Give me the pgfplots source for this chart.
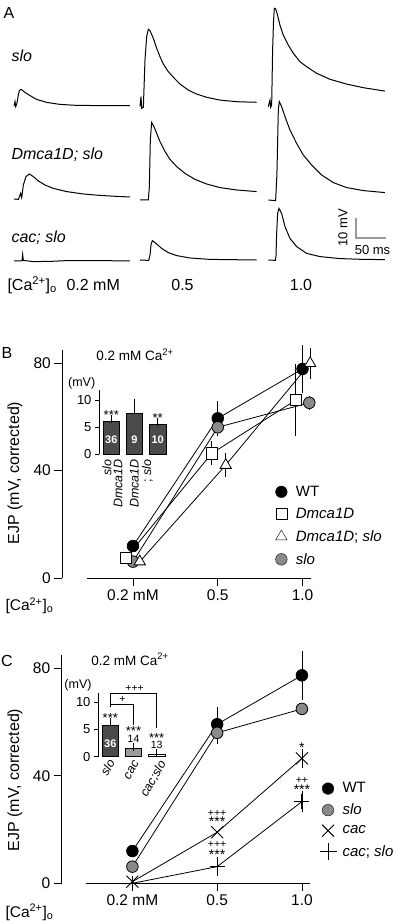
\documentclass[border=0pt]{standalone}
\usepackage{fontspec}
\setmainfont{Liberation Sans}
\usepackage{pgfplots}
\pgfplotsset{compat=1.18}
\definecolor{slogray}{HTML}{8A8A8A}
\definecolor{bardark}{HTML}{4A4A4A}
\definecolor{barmid}{HTML}{9A9A9A}
\definecolor{scalegray}{HTML}{9A9A9A}
\newcommand{\fs}[1]{\fontsize{#1}{#1}\selectfont}
\newcommand{\cao}{[Ca\textsuperscript{2+}]\textsubscript{o}}
\pgfplotsset{
  traceax/.style={hide axis, scale only axis, clip=false, anchor=south west,
    xmin=0, xmax=200, ymin=0, ymax=50, width=120pt, height=100pt},
  tr/.style={black, line width=1pt, no marks},
  mainax/.style={scale only axis, clip=false, anchor=south west,
    width=248.7pt, height=228.4pt, xmin=-0.834, xmax=2.1, ymin=0, ymax=85,
    axis lines=left, axis line style={draw=none},
    xtick={0,1,2}, xticklabels={0.2 mM,0.5,1.0}, ytick={0,40,80},
    tick align=outside, major tick length=8pt, tick style={black, line width=0.8pt},
    tick label style={font=\fs{15.5}},
    /pgf/number format/assume math mode=true,
    legend cell align=left,
  },
  lgimg/.style={legend image code/.code={\path[draw=none, fill=none] (-2pt,0pt) -- (20pt,0pt);
      \draw[mark repeat=2,mark phase=2,##1] plot coordinates {(0pt,0pt)(7pt,0pt)(14pt,0pt)};}},
  insetax/.style={scale only axis, clip=false, anchor=south west,
    width=68pt, height=64.1pt, xmin=-0.53, xmax=2.4, ymin=0, ymax=11.8,
    axis y line=left, axis x line=none, axis line style={-, line width=0.8pt},
    xtick=\empty, ytick={0,5,10}, tick align=outside, major tick length=4pt,
    tick style={black, line width=0.8pt}, tick label style={font=\fs{13}},
    /pgf/number format/assume math mode=true},
  ln/.style={black, line width=0.8pt},
  eb/.style={error bars/y dir=both, error bars/y explicit, error bars/error mark=none,
    error bars/error bar style={line width=0.8pt, black}},
  beb/.style={error bars/y dir=plus, error bars/y explicit,
    error bars/error bar style={line width=0.8pt, black},
    error bars/error mark options={black, mark size=4pt, line width=0.8pt}},
}
\newcommand{\trace}[3]{%
  \begin{axis}[traceax, at={(#1pt,#2pt)}]
  \addplot[tr] coordinates {#3};
  \end{axis}}
\begin{document}
\begin{tikzpicture}[x=1pt, y=1pt]
\useasboundingbox (0,0) rectangle (400,924);
% ---------------- Panel A ----------------
\node[font=\fs{16}] at (9,911) {A};
\node[font=\fs{16}\itshape, anchor=west] at (8,868) {slo};
\node[font=\fs{16}, anchor=west] at (8,769) {\textit{Dmca1D; slo}};
\node[font=\fs{16}, anchor=west] at (8,686) {\textit{cac; slo}};
\node[font=\fs{16}, anchor=west] at (4,639) {\cao};
\node[font=\fs{16}, anchor=west] at (63,639) {0.2 mM};
\node[font=\fs{16}] at (182.5,639) {0.5};
\node[font=\fs{16}] at (301,639) {1.0};
\node[font=\fs{13}, rotate=90] at (343,696) {10 mV};
\node[font=\fs{13}] at (372.5,674) {50 ms};
% row 1: slo
\trace{14}{818}{(0,0)(1.7,2.2)(2.8,-0.3)(4.4,0.8)(5.6,2.5)(7.2,5.5)(8.9,7.6)(11.1,8.3)(13.9,7.9)(18.3,6.8)(26.7,5.2)(37.8,3.3)(54.4,1.8)(76.7,0.8)(104.4,0.3)(143.3,0.2)(193.3,0.2)}
\trace{140}{817.3}{(0,0)(1.7,5)(2.8,-0.8)(5.6,-0.3)(8.3,23.3)(11.1,35)(13.9,38.7)(16.7,38)(22.2,34.2)(27.8,29.2)(33.3,25)(38.9,21.3)(47.2,17.5)(55.6,14.7)(66.7,11.3)(80.6,8.3)(94.4,6.3)(111.1,4.7)(133.3,3.3)(161.1,2.5)(194.4,2.2)}
\trace{268.3}{817.3}{(0,0)(2.8,3.3)(3.9,-0.3)(5.6,0.8)(7.2,28.3)(8.6,42)(10,49.2)(12,49)(13.9,47.5)(19.4,40.8)(25,35.8)(33.3,30.8)(41.7,26.7)(52.8,22.5)(63.9,20)(80.6,16.7)(102.8,13.7)(130.6,11.3)(158.3,9.5)(194.4,7.8)}
% row 2: Dmca1D; slo
\trace{14}{725}{(0,0)(7.2,-0.2)(11.1,2.8)(12.8,0.7)(15.6,7)(20,11.2)(25.6,12.5)(32.2,11.2)(40.6,9)(51.7,7)(65.6,5.3)(87.8,3.7)(115.6,2.5)(143.3,1.8)(171.1,1.3)(193.3,1)}
\trace{140}{724}{(0,0)(13.9,0)(15.6,6.7)(17.2,30)(19.4,38.7)(23.3,36.7)(27.8,33.3)(33.3,29.2)(41.7,24.2)(50,20.3)(61.1,16.7)(75,13.3)(91.7,10.3)(111.1,8)(133.3,6.2)(161.1,5)(194.4,4.2)}
\trace{268.3}{724}{(0,0)(12.2,-0.3)(14.4,13.3)(16.7,45)(18.3,49.2)(22.2,46.7)(27.8,41.7)(36.1,35)(47.2,28.3)(58.3,22.5)(72.2,17.5)(88.9,12.5)(108.3,8.7)(130.6,6.2)(158.3,4.7)(194.4,3.7)}
% row 3: cac; slo
\trace{14}{663}{(0,0)(13.3,0)(14.4,3.3)(15.6,0.3)(32.2,-0.3)(60,-0.2)(87.8,0.2)(143.3,0.2)(193.3,0)}
\trace{140}{664}{(0,0)(14.4,-0.2)(16.7,2.5)(18.3,7.5)(20.6,9.7)(27.8,8)(36.1,5.8)(47.2,3.7)(61.1,2.2)(83.3,1)(116.7,0.3)(194.4,0)}
\begin{axis}[traceax, at={(268.3pt,664pt)}]
\addplot[tr] coordinates {(0,0)(11.7,-0.2)(12.8,1.7)(13.9,13.3)(15.6,23.3)(17.8,25.8)(22.2,23.3)(27.8,16.7)(36.1,10.8)(47.2,6.7)(63.9,3.3)(86.1,1.7)(119.4,0.7)(158.3,0.3)(194.4,0.2)};
\addplot[scalegray, line width=1.2pt, no marks] coordinates {(146.2,21)(146.2,11)(196.2,11)};
\end{axis}
% ---------------- Panel B ----------------
\node[font=\fs{16}] at (7,571) {B};
\node[font=\fs{15.5}, anchor=west] at (2,318) {\cao};
\node[font=\fs{16}, rotate=90] at (15,451) {EJP (mV, corrected)};
\begin{axis}[mainax, at={(62.3pt,346pt)},
  legend style={draw=none, fill=none, font=\fs{15}, at={(axis cs:1.766,32.1)}, anchor=north west,
    xshift=-10.5pt, yshift=7.5pt, row sep=7.4pt, inner sep=0pt, nodes={inner sep=1.5pt}}]
\draw[line width=0.8pt] (axis cs:-0.834,0) -- (axis cs:-0.834,85);
\draw[line width=0.8pt] (axis cs:-0.543,0) -- (axis cs:2.1,0);
\addplot[ln, eb, mark=*, mark size=5.8pt, mark options={fill=black}, forget plot]
  coordinates {(0,11.9) +- (0,0) (1,59.4) +- (0,6.6) (2,77.8) +- (0,9)};
\addplot[ln, eb, mark=*, mark size=5.8pt, mark options={fill=slogray}, forget plot]
  coordinates {(0,6.1) +- (0,0) (1,56.1) +- (0,3) (2.08,65.2) +- (0,2.5)};
\addplot[ln, eb, mark=square*, mark size=5.6pt, mark options={fill=white}, forget plot]
  coordinates {(-0.08,7.6) +- (0,0) (0.93,46.4) +- (0,4.5) (1.92,66.2) +- (0,13.3)};
\addplot[ln, eb, mark=triangle*, mark size=6.5pt, mark options={fill=white}, forget plot]
  coordinates {(0.08,6.1) +- (0,0) (1.094,42) +- (0,4.4) (2.09,79.9) +- (0,5.7)};
\addlegendimage{only marks, mark=*, mark size=5.8pt, fill=black, lgimg}
\addlegendentry{WT}
\addlegendimage{only marks, mark=square*, mark size=5.6pt, fill=white, lgimg}
\addlegendentry{\textit{Dmca1D}}
\addlegendimage{only marks, mark=triangle*, mark size=6.5pt, fill=white, lgimg}
\addlegendentry{\textit{Dmca1D}; \textit{slo}}
\addlegendimage{only marks, mark=*, mark size=5.8pt, fill=slogray, lgimg}
\addlegendentry{\textit{slo}}
\end{axis}
\node[font=\fs{13.5}] at (135,569) {0.2 mM Ca\textsuperscript{2+}};
\node[font=\fs{12.5}] at (81.7,540.7) {(mV)};
\begin{axis}[insetax, at={(99pt,469.7pt)}]
\addplot[ybar, bar width=16.5pt, fill=bardark, draw=black, line width=0.6pt, beb]
  coordinates {(0,6.0) +- (0,0.5) (1,7.55) +- (0,1.85) (2,5.45) +- (0,0.45)};
\node[font=\fs{11}\bfseries, text=white] at (axis cs:0,2.6) {36};
\node[font=\fs{11}\bfseries, text=white] at (axis cs:1,2.6) {9};
\node[font=\fs{11}\bfseries, text=white] at (axis cs:2,2.6) {10};
\node[font=\fs{13}] at (axis cs:0,7.3) {***};
\node[font=\fs{13}] at (axis cs:2,6.7) {**};
\node[font=\fs{12.5}\itshape, rotate=90, anchor=east, inner sep=1pt] at (axis cs:-0.185,-0.7) {slo};
\node[font=\fs{12.5}\itshape, rotate=90, anchor=east, inner sep=1pt] at (axis cs:0.29,-0.7) {Dmca1D};
\node[font=\fs{12.5}, rotate=90, anchor=east, align=right, inner sep=1pt] at (axis cs:1.3,-0.7) {\textit{Dmca1D}\\; \textit{slo}};
\end{axis}
% ---------------- Panel C ----------------
\node[font=\fs{16}] at (7,263) {C};
\node[font=\fs{15.5}, anchor=west] at (2,11.7) {\cao};
\node[font=\fs{16}, rotate=90] at (15,144) {EJP (mV, corrected)};
\begin{axis}[mainax, at={(61.7pt,40.7pt)},
  legend style={draw=none, fill=none, font=\fs{15}, at={(axis cs:2.0,25.8)}, anchor=north west,
    xshift=16.9pt, yshift=33pt, row sep=6.5pt, inner sep=0pt, nodes={inner sep=1.5pt}}]
\draw[line width=0.8pt] (axis cs:-0.834,0) -- (axis cs:-0.834,85);
\draw[line width=0.8pt] (axis cs:-0.543,0) -- (axis cs:2.1,0);
\addplot[ln, eb, mark=*, mark size=5.8pt, mark options={fill=black}, forget plot]
  coordinates {(0,12.0) +- (0,0) (1,59.2) +- (0,6.5) (2,77.4) +- (0,9)};
\addplot[ln, eb, mark=*, mark size=5.8pt, mark options={fill=slogray}, forget plot]
  coordinates {(0,6.2) +- (0,0) (1,56.0) +- (0,4) (2,64.9) +- (0,2)};
\addplot[ln, eb, mark=x, mark size=8.5pt, mark options={line width=0.9pt}, forget plot]
  coordinates {(0,0.6) +- (0,0) (1,19.0) +- (0,0) (2,46.5) +- (0,3.5)};
\addplot[ln, eb, mark=+, mark size=7.5pt, mark options={line width=0.9pt}, forget plot]
  coordinates {(0,0) +- (0,0) (1,6.2) +- (0,3.5) (2,30.4) +- (0,4)};
\node[font=\fs{14}] at (axis cs:2,50.3) {*};
\node[font=\fs{10.5}] at (axis cs:2,38.2) {++};
\node[font=\fs{14}] at (axis cs:2,35.0) {***};
\node[font=\fs{10.5}] at (axis cs:1,26.0) {+++};
\node[font=\fs{14}] at (axis cs:1,22.9) {***};
\node[font=\fs{10.5}] at (axis cs:1,14.3) {+++};
\node[font=\fs{14}] at (axis cs:1,10.7) {***};
\addlegendimage{only marks, mark=*, mark size=5.8pt, fill=black, lgimg}
\addlegendentry{WT}
\addlegendimage{only marks, mark=*, mark size=5.8pt, fill=slogray, lgimg}
\addlegendentry{\textit{slo}}
\addlegendimage{only marks, mark=x, mark size=8.5pt, line width=0.9pt, lgimg}
\addlegendentry{\textit{cac}}
\addlegendimage{only marks, mark=+, mark size=8.5pt, line width=0.9pt, lgimg}
\addlegendentry{\textit{cac}; \textit{slo}}
\end{axis}
\node[font=\fs{13.5}] at (130,264.7) {0.2 mM Ca\textsuperscript{2+}};
\node[font=\fs{12.5}] at (78,239) {(mV)};
\begin{axis}[insetax, at={(98pt,167.3pt)}]
\addplot[ybar, bar width=16.5pt, fill=bardark, draw=black, line width=0.6pt, beb]
  coordinates {(0,5.8) +- (0,0.6)};
\addplot[ybar, bar width=16.5pt, fill=barmid, draw=black, line width=0.6pt, beb]
  coordinates {(1,1.5) +- (0,0.25)};
\addplot[ybar, bar width=16.5pt, fill=white, draw=black, line width=0.6pt, beb]
  coordinates {(2,0.45) +- (0,0.2)};
\draw[line width=0.8pt] (axis cs:0,9.1) -- (axis cs:0,11.65) -- (axis cs:2,11.65) -- (axis cs:2,5.2);
\draw[line width=0.8pt] (axis cs:0,9.7) -- (axis cs:1,9.7) -- (axis cs:1,5.8);
\node[font=\fs{10.5}] at (axis cs:1.05,12.5) {+++};
\node[font=\fs{10.5}] at (axis cs:0.52,10.5) {+};
\node[font=\fs{11}\bfseries, text=white] at (axis cs:0,2.45) {36};
\node[font=\fs{13}] at (axis cs:0,7.2) {***};
\node[font=\fs{13}] at (axis cs:1,4.7) {***};
\node[font=\fs{10.5}] at (axis cs:1,3.3) {14};
\node[font=\fs{13}] at (axis cs:2,3.4) {***};
\node[font=\fs{10.5}] at (axis cs:2,2.1) {13};
\node[font=\fs{12.5}\itshape, rotate=60, anchor=east, inner sep=1pt] at (axis cs:0.08,-0.5) {slo};
\node[font=\fs{12.5}\itshape, rotate=60, anchor=east, inner sep=1pt] at (axis cs:1.15,-0.7) {cac};
\node[font=\fs{12.5}\itshape, rotate=60, anchor=east, inner sep=1pt] at (axis cs:2.3,-0.8) {cac;slo};
\end{axis}
\end{tikzpicture}
\end{document}
